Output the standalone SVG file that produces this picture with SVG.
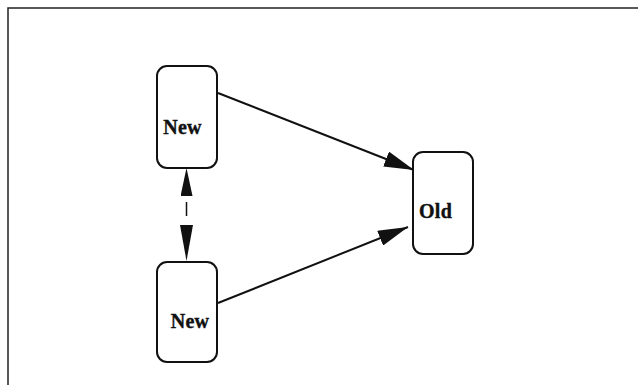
<svg xmlns="http://www.w3.org/2000/svg" width="638" height="385" viewBox="0 0 638 385">
<style>
.box{fill:#fff;stroke:#111;stroke-width:2}
.lbl{font-family:"Liberation Serif",serif;font-weight:bold;font-size:20px;letter-spacing:0.3px;fill:#111;stroke:#111;stroke-width:0.4;text-anchor:middle}
.edge{stroke:#111;stroke-width:2;fill:none}
.dash{stroke:#111;stroke-width:1.5;fill:none;stroke-dasharray:0 34 14 200}
</style>
<defs>
<marker id="ah" markerUnits="userSpaceOnUse" markerWidth="30" markerHeight="16" refX="30" refY="8" orient="auto-start-reverse">
<path d="M0,0 L30,8 L0,16 z" fill="#111"/>
</marker>
<marker id="ahl" markerUnits="userSpaceOnUse" markerWidth="36" markerHeight="13" refX="36" refY="6.5" orient="auto">
<path d="M0,0 L36,6.5 L0,13 z" fill="#111"/>
</marker>
<marker id="ahs" markerUnits="userSpaceOnUse" markerWidth="28" markerHeight="12" refX="28" refY="6" orient="auto-start-reverse">
<path d="M0,0 L28,6 L0,12 z" fill="#111"/>
</marker>
</defs>
<rect x="8" y="8" width="640" height="400" fill="none" stroke="#222" stroke-width="1.5"/>
<g id="connectors">
<line class="edge" x1="218" y1="93" x2="414" y2="170" marker-end="url(#ah)"/>
<line class="edge" x1="218" y1="303" x2="408" y2="227" marker-end="url(#ah)"/>
<line class="dash" x1="186.5" y1="168" x2="186.5" y2="261" marker-start="url(#ahs)" marker-end="url(#ahl)"/>
</g>
<g id="node-new-top">
<rect class="box" x="157" y="66" width="60" height="102" rx="10"/>
<text class="lbl" x="182.5" y="134">New</text>
</g>
<g id="node-new-bottom">
<rect class="box" x="157" y="262" width="60" height="100" rx="10"/>
<text class="lbl" x="190" y="328">New</text>
</g>
<g id="node-old">
<rect class="box" x="413" y="152" width="60" height="102" rx="10"/>
<text class="lbl" x="435.5" y="218">Old</text>
</g>
</svg>
